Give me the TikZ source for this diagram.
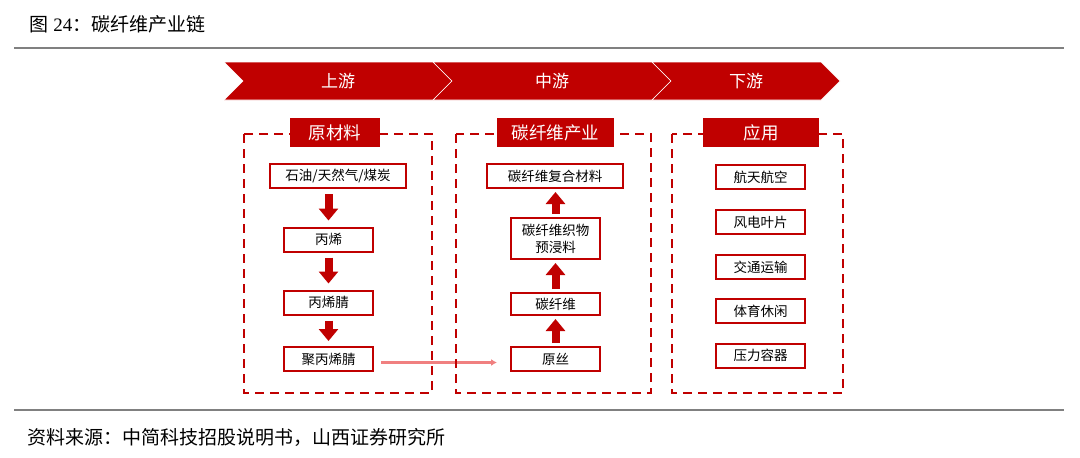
\documentclass[tikz,border=0pt]{standalone}
\usepackage{fontspec}
\setmainfont{Liberation Serif}
\newfontfamily\cjk{Noto Sans CJK SC}
\usetikzlibrary{shapes.symbols, arrows.meta, positioning}
\definecolor{darkred}{HTML}{C00000}
\definecolor{lightred}{HTML}{F08080}
\definecolor{rulegray}{HTML}{808080}

\begin{document}
\begin{tikzpicture}[
  x=1pt, y=-1pt,
  chev/.style={
    signal,
    signal from=west,
    signal to=east,
    fill=darkred,
    draw=white,
    line width=0.6pt,
    minimum height=38pt,
    inner sep=0pt,
    text=white,
    font=\cjk\fontsize{17}{17}\selectfont
  },
  head/.style={
    fill=darkred,
    text=white,
    minimum height=29pt,
    inner sep=0pt,
    font=\cjk\fontsize{17.5}{18}\selectfont
  },
  item/.style={
    draw=darkred,
    line width=2pt,
    fill=white,
    align=center,
    inner sep=2pt,
    minimum width=89pt,
    minimum height=24pt,
    font=\cjk\fontsize{13.5}{17}\selectfont
  },
  panel/.style={draw=darkred, line width=2.5pt, dash pattern=on 9pt off 6pt},
  blockarrow/.style={draw=darkred, line width=8pt, -{Triangle[width=19pt, length=12pt]}},
  link/.style={draw=lightred, line width=2.6pt, -{Latex[length=6pt, width=7pt]}},
  rule/.style={draw=rulegray, line width=1.5pt}
]
\useasboundingbox (0,0) rectangle (1080,458);

% title and rules
\node[anchor=west, font=\fontsize{19}{20}\selectfont] (title) at (26,24)
  {{\cjk 图} 24{\cjk ：碳纤维产业链}};
\draw[rule] (14,48) -- (1064,48);
\draw[rule] (14,410) -- (1064,410);
\node[anchor=west, font=\cjk\fontsize{19}{20}\selectfont] (source) at (24,437)
  {资料来源：中简科技招股说明书，山西证券研究所};

% stages
\node[chev, minimum width=228pt] (up) at (338,81) {上游};
\node[chev, minimum width=238pt] (mid) at (552,81) {中游};
\node[chev, minimum width=188pt] (down) at (746,81) {下游};

% upstream
\node[item, minimum width=136pt] (fossil) at (338,176) {石油/天然气/煤炭};
\node[item] (propylene) at (328.5,239.5) {丙烯};
\node[item] (acn) at (328.5,302.5) {丙烯腈};
\node[item] (pan) at (328.5,359) {聚丙烯腈};

\draw[blockarrow, shorten <=5pt, shorten >=6pt] (fossil.south -| propylene.north) -- (propylene.north);
\draw[blockarrow, shorten <=5pt, shorten >=6pt] (propylene.south) -- (acn.north);
\draw[blockarrow, shorten <=5pt, shorten >=5pt] (acn.south) -- (pan.north);

% midstream
\node[item, minimum width=136pt] (composite) at (555,176) {碳纤维复合材料};
\node[item, minimum height=41pt] (prepreg) at (555.5,238.5) {碳纤维织物\\预浸料};
\node[item, minimum height=22pt] (cfiber) at (555.5,304) {碳纤维};
\node[item] (precursor) at (555.5,359) {原丝};

\draw[blockarrow, shorten <=3pt, shorten >=3pt] (precursor.north) -- (cfiber.south);
\draw[blockarrow, shorten <=3pt, shorten >=3pt] (cfiber.north) -- (prepreg.south);
\draw[blockarrow, shorten <=3pt, shorten >=3pt] (prepreg.north) -- (composite.south -| prepreg.north);

\draw[link, shorten <=7pt, shorten >=13pt] ([yshift=-3.5pt]pan.east) -- ([yshift=-3.5pt]precursor.west);

% downstream
\node[item] (aero) at (760.5,177) {航天航空};
\node[item] (wind) at (760.5,222) {风电叶片};
\node[item] (traffic) at (760.5,267) {交通运输};
\node[item] (sport) at (760.5,311) {体育休闲};
\node[item] (vessel) at (760.5,355.5) {压力容器};

% panels
\draw[panel] (244,134) rectangle (432,393);
\draw[panel] (456,134) rectangle (651,393);
\draw[panel] (672,134) rectangle (843,393);

\node[head, minimum width=90pt] (rawhead) at (335,132.5) {原材料};
\node[head, minimum width=117pt] (cfhead) at (555.5,132.5) {碳纤维产业};
\node[head, minimum width=116pt] (apphead) at (761,132.5) {应用};

\end{tikzpicture}
\end{document}
